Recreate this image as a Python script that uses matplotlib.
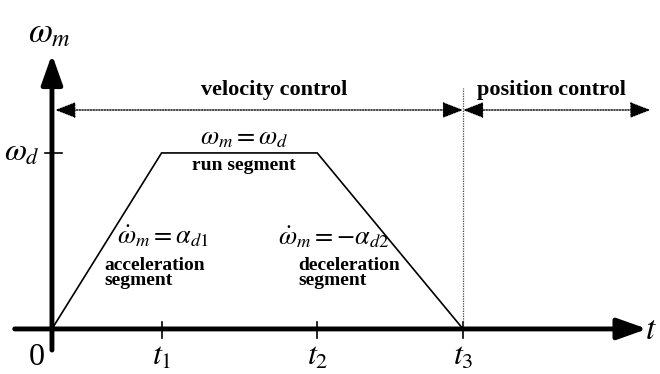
import matplotlib
matplotlib.use("Agg")
import matplotlib.pyplot as plt

plt.rcParams['font.family'] = ['Liberation Serif', 'DejaVu Serif']
plt.rcParams['mathtext.fontset'] = 'stix'

# velocity profile (time in t1 units, speed in omega_d units)
times = [0.0, 1.0, 2.42, 3.75]
speed = [0.0, 1.0, 1.0, 0.0]
tick_labels = [r'$t_1$', r'$t_2$', r'$t_3$']
region_labels = ['velocity control', 'position control']

fig = plt.figure(figsize=(6.6, 3.74), dpi=100)
ax = fig.add_axes([0, 0, 1, 1])
ax.set_xlim(-0.474, 5.547)
ax.set_ylim(-0.256, 1.869)
ax.axis('off')

# main axes arrows
axis_arrow = dict(arrowstyle='-|>,head_length=0.45,head_width=0.16', lw=3.5,
                  color='black', shrinkA=0, shrinkB=0, mutation_scale=40)
ax.annotate('', xy=(0, 1.56), xytext=(0, -0.12), arrowprops=axis_arrow)
ax.annotate('', xy=(5.43, 0), xytext=(-0.34, 0), arrowprops=axis_arrow)

# trapezoid profile
ax.plot(times, speed, color='black', lw=1.2, solid_joinstyle='miter')

# omega_d tick and t ticks
ax.plot([-0.064, 0.09], [speed[1], speed[1]], color='black', lw=1.2)
for t in times[1:]:
    ax.plot([t, t], [-0.05, 0.04], color='black', lw=1.2)

# tick labels
ax.text(-0.14, -0.16, '0', fontsize=23, ha='center', va='center')
for t, lab in zip(times[1:], tick_labels):
    ax.text(t, -0.16, lab, fontsize=23, ha='center', va='center')
ax.text(5.41, -0.01, r'$t$', fontsize=24, ha='left', va='center')
ax.text(-0.27, speed[1], r'$\omega_d$', fontsize=23, ha='center', va='center')
ax.text(-0.02, 1.68, r'$\omega_m$', fontsize=25, ha='center', va='center')

# control regions
dot_arrow = dict(arrowstyle='<|-|>,head_length=0.9,head_width=0.35', lw=1.0,
                 ls=(0, (1, 1)), color='black', shrinkA=0, shrinkB=0,
                 mutation_scale=14)
ax.annotate('', xy=(0.03, 1.244), xytext=(times[3], 1.244), arrowprops=dot_arrow)
ax.annotate('', xy=(times[3], 1.244), xytext=(5.46, 1.244), arrowprops=dot_arrow)
ax.plot([times[3], times[3]], [0, 1.37], color='#444444', lw=0.9, ls=(0, (1, 1)))
ax.text(2.03, 1.36, region_labels[0], fontsize=16, fontweight='bold',
        ha='center', va='center')
ax.text(4.56, 1.36, region_labels[1], fontsize=16, fontweight='bold',
        ha='center', va='center')

# segment annotations
ax.text(1.75, 1.08, r'$\omega_m = \omega_d$', fontsize=19, ha='center', va='center')
ax.text(1.75, 0.93, 'run segment', fontsize=14, fontweight='bold',
        ha='center', va='center')
ax.text(1.01, 0.53, r'$\dot{\omega}_m = \alpha_{d1}$', fontsize=19,
        ha='center', va='center')
ax.text(0.48, 0.32, 'acceleration\nsegment', fontsize=14, fontweight='bold',
        ha='left', va='center', linespacing=0.85)
ax.text(2.06, 0.52, r'$\dot{\omega}_m = -\alpha_{d2}$', fontsize=19,
        ha='left', va='center')
ax.text(2.25, 0.32, 'deceleration\nsegment', fontsize=14, fontweight='bold',
        ha='left', va='center', linespacing=0.85)

fig.savefig('out.png', dpi=100)
